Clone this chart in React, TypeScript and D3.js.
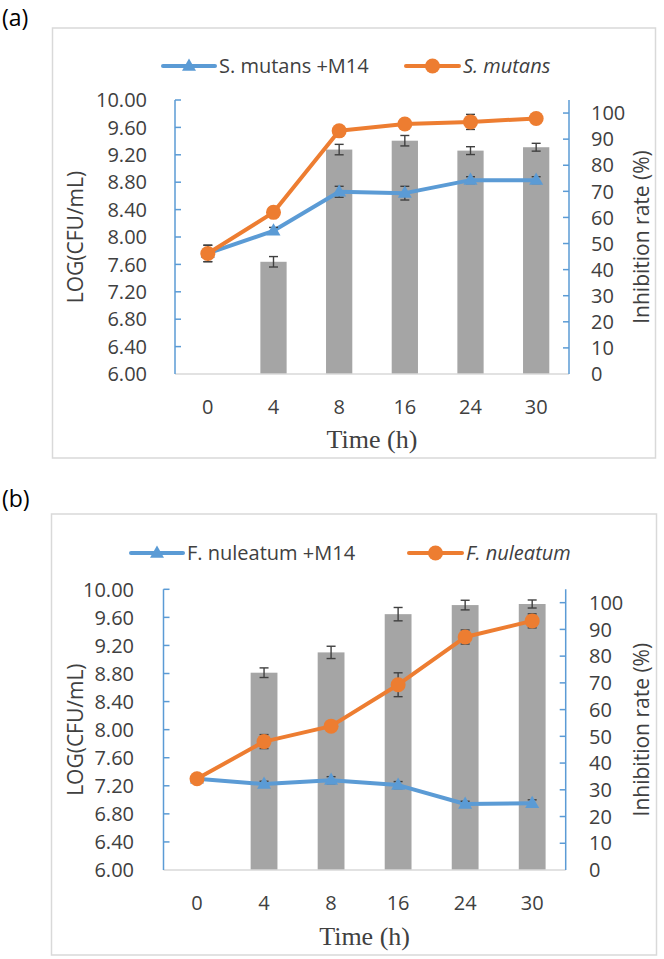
import React from "react";
import * as d3 from "d3";

const times = ["0", "4", "8", "16", "24", "30"];

// Panel (a)
const aLegendTreated = "S. mutans +M14";
const aLegendControl = "S. mutans";
const aInhibition = [null, 43, 86, 89.4, 85.6, 86.9];
const aInhibitionErr = [0, 2, 2, 2, 1.5, 1.5];
const aTreated = [7.76, 8.09, 8.66, 8.64, 8.83, 8.83];
const aTreatedErr = [0.12, 0.05, 0.08, 0.1, 0.05, 0.05];
const aControl = [7.76, 8.36, 9.55, 9.65, 9.68, 9.73];
const aControlErr = [0.12, 0.07, 0.04, 0.05, 0.11, 0.03];

// Panel (b)
const bLegendTreated = "F. nuleatum +M14";
const bLegendControl = "F. nuleatum";
const bInhibition = [null, 73.8, 81.4, 95.7, 99.1, 99.5];
const bInhibitionErr = [0, 1.8, 2.3, 2.5, 1.8, 1.5];
const bTreated = [7.3, 7.225, 7.28, 7.21, 6.94, 6.95];
const bTreatedErr = [0.03, 0.04, 0.05, 0.05, 0.04, 0.05];
const bControl = [7.3, 7.83, 8.05, 8.64, 9.32, 9.55];
const bControlErr = [0.03, 0.1, 0.05, 0.17, 0.1, 0.1];

const leftTicks = [6.0, 6.4, 6.8, 7.2, 7.6, 8.0, 8.4, 8.8, 9.2, 9.6, 10.0];
const rightTicks = [0, 10, 20, 30, 40, 50, 60, 70, 80, 90, 100];
const leftDomain = [6, 10];
const rightDomain = [0, 105];

const BLUE = "#5B9BD5";
const ORANGE = "#ED7D31";
const GRAY = "#A5A5A5";
const TEXT = "#404040";
const SANS = "'Open Sans', 'Noto Sans', sans-serif";
const SERIF = "'Liberation Serif', 'Times New Roman', serif";

type Layout = {
  tag: string;
  tagY: number;
  frame: [number, number, number, number];
  left: number;
  right: number;
  top: number;
  bottom: number;
  legendY: number;
  legendBlueX: number;
  legendOrangeX: number;
  leftLabelX: number;
  rightLabelX: number;
  xLabelY: number;
  titleY: number;
};

function Triangle({ x, y, s = 14 }: { x: number; y: number; s?: number }) {
  const h = s * 0.87;
  return (
    <path
      d={`M${x},${y - h * 0.62} L${x + s / 2},${y + h * 0.38} L${x - s / 2},${y + h * 0.38} Z`}
      fill={BLUE}
    />
  );
}

function ErrBar({ x, y1, y2, w = 9 }: { x: number; y1: number; y2: number; w?: number }) {
  return (
    <g stroke="#404040" strokeWidth={1.4}>
      <line x1={x} x2={x} y1={y1} y2={y2} />
      <line x1={x - w / 2} x2={x + w / 2} y1={y1} y2={y1} />
      <line x1={x - w / 2} x2={x + w / 2} y1={y2} y2={y2} />
    </g>
  );
}

function Panel({
  L,
  legendTreated,
  legendControl,
  inhibition,
  inhibitionErr,
  treated,
  treatedErr,
  control,
  controlErr,
}: {
  L: Layout;
  legendTreated: string;
  legendControl: string;
  inhibition: (number | null)[];
  inhibitionErr: number[];
  treated: number[];
  treatedErr: number[];
  control: number[];
  controlErr: number[];
}) {
  const x = d3.scaleBand<string>().domain(times).range([L.left, L.right]).paddingInner(0).paddingOuter(0);
  const cx = (t: string) => (x(t) as number) + x.bandwidth() / 2;
  const yL = d3.scaleLinear().domain(leftDomain).range([L.bottom, L.top]);
  const yR = d3.scaleLinear().domain(rightDomain).range([L.bottom, L.top]);
  const barW = x.bandwidth() * 0.4;
  const line = d3
    .line<number>()
    .x((_, i) => cx(times[i]))
    .y((d) => yL(d));
  const [fx, fy, fw, fh] = L.frame;

  return (
    <g>
      <text x={2} y={L.tagY} fontFamily={SANS} fontSize={23} fill="#000">
        {L.tag}
      </text>
      <rect x={fx} y={fy} width={fw} height={fh} fill="#fff" stroke="#D9D9D9" strokeWidth={1.5} />

      {/* legend */}
      <g fontFamily={SANS} fontSize={20} fill={TEXT}>
        <line x1={L.legendBlueX} x2={L.legendBlueX + 52} y1={L.legendY} y2={L.legendY} stroke={BLUE} strokeWidth={4} strokeLinecap="round" />
        <Triangle x={L.legendBlueX + 26} y={L.legendY} />
        <text x={L.legendBlueX + 56} y={L.legendY + 7}>
          {legendTreated}
        </text>
        <line x1={L.legendOrangeX} x2={L.legendOrangeX + 53} y1={L.legendY} y2={L.legendY} stroke={ORANGE} strokeWidth={4} strokeLinecap="round" />
        <circle cx={L.legendOrangeX + 26.5} cy={L.legendY} r={7.5} fill={ORANGE} />
        <text x={L.legendOrangeX + 57} y={L.legendY + 7} fontStyle="italic">
          {legendControl}
        </text>
      </g>

      {/* bars */}
      {inhibition.map((v, i) =>
        v == null ? null : (
          <rect key={"b" + i} x={cx(times[i]) - barW / 2} y={yR(v)} width={barW} height={L.bottom - yR(v)} fill={GRAY} />
        )
      )}
      {inhibition.map((v, i) =>
        v == null ? null : (
          <ErrBar key={"be" + i} x={cx(times[i])} y1={yR(v + inhibitionErr[i])} y2={yR(v - inhibitionErr[i])} />
        )
      )}

      {/* x axis baseline */}
      <line x1={L.left} x2={L.right} y1={L.bottom} y2={L.bottom} stroke="#D9D9D9" strokeWidth={1.5} />

      {/* left axis */}
      <line x1={L.left} x2={L.left} y1={yL(10)} y2={L.bottom} stroke={BLUE} strokeWidth={1.5} />
      {leftTicks.map((t) => (
        <g key={"lt" + t}>
          {t > 6 && <line x1={L.left} x2={L.left + 6} y1={yL(t)} y2={yL(t)} stroke={BLUE} strokeWidth={1.5} />}
          <text x={L.leftLabelX} y={yL(t)} dy="0.36em" textAnchor="end" fontFamily={SANS} fontSize={20} fill={TEXT}>
            {d3.format(".2f")(t)}
          </text>
        </g>
      ))}

      {/* right axis */}
      <line x1={L.right} x2={L.right} y1={L.top} y2={L.bottom} stroke={BLUE} strokeWidth={1.5} />
      {rightTicks.map((t) => (
        <g key={"rt" + t}>
          {t > 0 && <line x1={L.right - 6} x2={L.right} y1={yR(t)} y2={yR(t)} stroke={BLUE} strokeWidth={1.5} />}
          <text x={L.rightLabelX} y={yR(t)} dy="0.36em" textAnchor="start" fontFamily={SANS} fontSize={20} fill={TEXT}>
            {t}
          </text>
        </g>
      ))}

      {/* x labels */}
      {times.map((t) => (
        <text key={"xl" + t} x={cx(t)} y={L.xLabelY} textAnchor="middle" fontFamily={SANS} fontSize={20} fill={TEXT}>
          {t}
        </text>
      ))}

      {/* titles */}
      <text x={(L.left + L.right) / 2} y={L.titleY} textAnchor="middle" fontFamily={SERIF} fontSize={26} fill={TEXT}>
        Time (h)
      </text>
      <text
        transform={`translate(${75},${(L.top + L.bottom) / 2}) rotate(-90)`}
        textAnchor="middle"
        dy="0.36em"
        fontFamily={SANS}
        fontSize={21}
        fill={TEXT}
      >
        LOG(CFU/mL)
      </text>
      <text
        transform={`translate(${641.5},${(L.top + L.bottom) / 2}) rotate(-90)`}
        textAnchor="middle"
        dy="0.36em"
        fontFamily={SANS}
        fontSize={21}
        fill={TEXT}
      >
        Inhibition rate (%)
      </text>

      {/* treated (blue) */}
      <path d={line(treated) as string} fill="none" stroke={BLUE} strokeWidth={4} strokeLinejoin="round" />
      {treated.map((v, i) => (
        <ErrBar key={"te" + i} x={cx(times[i])} y1={yL(v + treatedErr[i])} y2={yL(v - treatedErr[i])} />
      ))}
      {treated.map((v, i) => (
        <Triangle key={"tm" + i} x={cx(times[i])} y={yL(v)} />
      ))}

      {/* control (orange) */}
      <path d={line(control) as string} fill="none" stroke={ORANGE} strokeWidth={4} strokeLinejoin="round" />
      {control.map((v, i) => (
        <ErrBar key={"ce" + i} x={cx(times[i])} y1={yL(v + controlErr[i])} y2={yL(v - controlErr[i])} />
      ))}
      {control.map((v, i) => (
        <circle key={"cm" + i} cx={cx(times[i])} cy={yL(v)} r={7.5} fill={ORANGE} />
      ))}
    </g>
  );
}

const layoutA: Layout = {
  tag: "(a)",
  tagY: 26,
  frame: [52.5, 28, 603, 430],
  left: 175,
  right: 569,
  top: 100,
  bottom: 374,
  legendY: 66,
  legendBlueX: 163,
  legendOrangeX: 406,
  leftLabelX: 147,
  rightLabelX: 591,
  xLabelY: 414,
  titleY: 448,
};

const layoutB: Layout = {
  tag: "(b)",
  tagY: 507,
  frame: [51.5, 514, 605, 441],
  left: 163.5,
  right: 565.7,
  top: 589.3,
  bottom: 870,
  legendY: 553,
  legendBlueX: 131,
  legendOrangeX: 409,
  leftLabelX: 134,
  rightLabelX: 589,
  xLabelY: 910,
  titleY: 945,
};

export default function App() {
  return (
    <div style={{ position: "absolute", left: 0, top: 0, background: "#fff" }}>
      <svg width={664} height={959} style={{ display: "block" }}>
        <rect width={664} height={959} fill="#fff" />
        <Panel
          L={layoutA}
          legendTreated={aLegendTreated}
          legendControl={aLegendControl}
          inhibition={aInhibition}
          inhibitionErr={aInhibitionErr}
          treated={aTreated}
          treatedErr={aTreatedErr}
          control={aControl}
          controlErr={aControlErr}
        />
        <Panel
          L={layoutB}
          legendTreated={bLegendTreated}
          legendControl={bLegendControl}
          inhibition={bInhibition}
          inhibitionErr={bInhibitionErr}
          treated={bTreated}
          treatedErr={bTreatedErr}
          control={bControl}
          controlErr={bControlErr}
        />
      </svg>
    </div>
  );
}
